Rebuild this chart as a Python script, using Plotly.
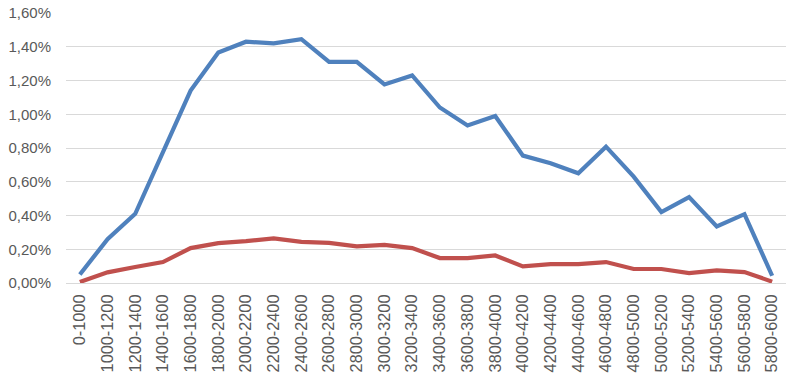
import plotly.graph_objects as go

categories = ["0-1000", "1000-1200", "1200-1400", "1400-1600", "1600-1800", "1800-2000",
              "2000-2200", "2200-2400", "2400-2600", "2600-2800", "2800-3000", "3000-3200",
              "3200-3400", "3400-3600", "3600-3800", "3800-4000", "4000-4200", "4200-4400",
              "4400-4600", "4600-4800", "4800-5000", "5000-5200", "5200-5400", "5400-5600",
              "5600-5800", "5800-6000"]

blue_pct = [0.05, 0.26, 0.41, 0.77, 1.14, 1.366, 1.43, 1.42, 1.445, 1.31, 1.31, 1.177,
            1.23, 1.04, 0.934, 0.99, 0.755, 0.71, 0.65, 0.808, 0.63, 0.42, 0.509, 0.335,
            0.408, 0.043]

red_pct = [0.006, 0.063, 0.095, 0.124, 0.207, 0.236, 0.248, 0.264, 0.244, 0.238, 0.217,
           0.226, 0.207, 0.148, 0.148, 0.163, 0.098, 0.112, 0.112, 0.124, 0.083, 0.083,
           0.059, 0.075, 0.065, 0.008]

y_ticks = [0, 0.002, 0.004, 0.006, 0.008, 0.010, 0.012, 0.014, 0.016]

fig = go.Figure()
fig.add_trace(go.Scatter(x=categories, y=[v / 100 for v in blue_pct], mode="lines",
                         line=dict(color="#4F81BD", width=4.2), showlegend=False))
fig.add_trace(go.Scatter(x=categories, y=[v / 100 for v in red_pct], mode="lines",
                         line=dict(color="#C0504D", width=4.2), showlegend=False))

yfont = dict(family="Liberation Sans, Arial, sans-serif", size=15, color="#595959")
xfont = dict(family="Liberation Sans, Arial, sans-serif", size=16.3, color="#595959")

fig.update_layout(
    width=796, height=382,
    margin=dict(l=66, r=10, t=13, b=99),
    paper_bgcolor="white", plot_bgcolor="white",
    separators=",.",
    font=yfont,
    xaxis=dict(type="category", range=[-0.5, len(categories) - 0.5], tickangle=-90,
               showgrid=False, showline=True,
               linecolor="#d9d9d9", linewidth=1, ticks="", tickfont=xfont,
               ticklabelstandoff=4, automargin=False),
    yaxis=dict(range=[0, 0.016], tickvals=y_ticks, tickformat=".2%", showgrid=True,
               gridcolor="#d9d9d9", gridwidth=1, zeroline=False, showline=False,
               ticks="", tickfont=yfont, ticklabelstandoff=14, automargin=False),
)

fig.write_html("out.html", config={"displayModeBar": False},
               post_script="document.body.style.margin='0';document.body.style.overflow='hidden';")
